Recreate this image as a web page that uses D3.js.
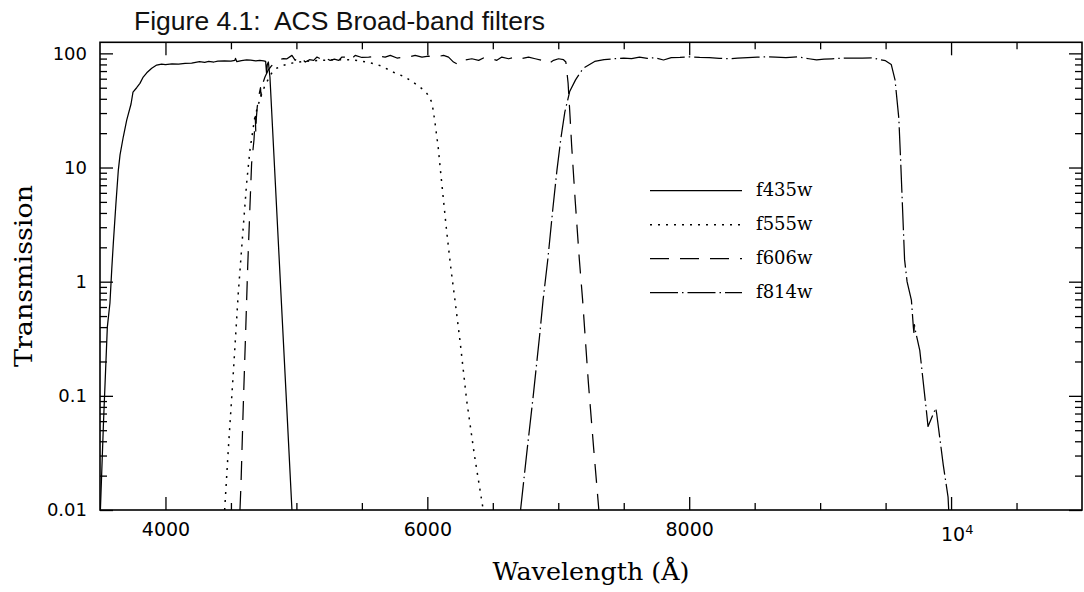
<!DOCTYPE html>
<html>
<head>
<meta charset="utf-8">
<script src="https://cdn.jsdelivr.net/npm/d3@7"></script>
<style>
  html, body { margin: 0; padding: 0; background: #fff; }
  svg { display: block; }
</style>
</head>
<body>
<svg id="chart" width="1084" height="592"></svg>
<script>
// ---------- data (wavelength in Å, transmission in %) ----------
const wl435 = [3503,3527,3556,3576,3590,3602,3622,3640,3653,3678,3704,3737,3752,3780,3805,3830,3857,3895,3933,3970,4000,4050,4100,4150,4200,4230,4260,4300,4330,4370,4400,4450,4500,4530,4535,4545,4580,4620,4650,4690,4720,4750,4765,4772,4778,4786,4798,4840,4880,4920,4966];
const tr435 = [0.01,0.06,0.4,0.65,1.3,2.2,4.9,9.5,12.9,18.6,26,36,45.7,50,54.6,62,67.6,74,79,80.5,79.5,81,80.5,81.7,82,83.5,84.5,83.5,85,84,85.6,86,85.5,87,90.4,84.5,86.5,87.5,87.4,86,87,86,85,67,80,84,61.7,7,0.87,0.11,0.01];

const wl555 = [4452,4480,4518,4556,4594,4620,4645,4683,4722,4760,4811,4849,4900,4951,5050,5205,5300,5400,5470,5530,5600,5653,5714,5767,5821,5870,5920,5969,6000,6032,6045,6060,6083,6100,6121,6147,6180,6211,6250,6300,6360,6427];
const tr555 = [0.01,0.034,0.158,0.79,3.0,7.3,14.2,27.9,40,52.5,67,74,78.5,81.7,85,87,88,88,86.5,84,81,77,71,66,63,58,53,48,44,37.7,31.8,24,15,9.5,5.5,2.8,1.3,0.69,0.3,0.092,0.03,0.01];

const wl606 = [4569,4577,4594,4612,4628,4645,4658,4676,4686,4690,4694,4701,4714,4726,4730,4734,4760,4785,4811,4840,4870,4900,4928,4966,4991,5017,5042,5068,5100,5132,5157,5182,5208,5233,5258,5290,5323,5348,5386,5411,5449,5500,5552,5615,5678,5717,5768,5810,5857,5907,5959,6010,6047,6085,6124,6162,6200,6238,6276,6340,6392,6442,6493,6531,6569,6621,6671,6709,6773,6824,6875,6925,6964,7002,7040,7058,7075,7090,7102,7130,7161,7186,7230,7270,7310];
const tr606 = [0.01,0.017,0.08,0.35,1.35,4.5,10.9,17.4,28,20,27,34,43,50,42,51,62,71.5,78,84,88,90,89.7,96,86.9,94.7,89.7,83.9,88,86.9,92.8,89.7,96,89.7,86.9,89,86.9,92.8,92.8,86.9,96,92,92.8,94.7,92.8,96,91,92,92.8,96,92.8,94.7,92.8,94,96,92.8,83.9,79.5,86.9,89.7,86.9,92.8,89.7,86.9,92.8,89.7,92.8,89.7,92.8,89.7,86.9,81.1,86.9,89.7,88,84,55,28,15.7,5,1.56,0.69,0.13,0.035,0.01];

const wl814 = [6712,6760,6808,6859,6884,6921,6959,6990,7020,7050,7088,7132,7190,7278,7350,7425,7500,7560,7620,7680,7740,7804,7863,7930,8003,8080,8155,8230,8301,8370,8447,8520,8593,8660,8739,8826,8914,8973,9030,9090,9160,9240,9323,9400,9440,9499,9543,9572,9601,9616,9645,9664,9697,9712,9716,9720,9730,9761,9811,9824,9883,9890,9940,9977,9982];
const tr814 = [0.01,0.032,0.098,0.35,0.69,1.6,4.4,9.5,18,30.6,46.6,58.6,74,85,88,89.7,91,90,92.5,90.5,91.5,87.5,91.7,92,93.2,92,91.7,90.5,89.7,91,91.7,92.5,93.2,92.5,91.7,93.2,89.7,87.5,89,89.7,90.5,91,91,91.5,89,86.3,80,58.6,27,10.7,1.56,1.0,0.69,0.40,0.36,0.42,0.36,0.25,0.075,0.054,0.078,0.07,0.025,0.013,0.01];

const seriesNames = ["f435w","f555w","f606w","f814w"];
const xMajorTicks = [4000,6000,8000,10000];
const xTickLabels = ["4000","6000","8000","10^4"];
const yMajorTicks = [0.01,0.1,1,10,100];
const yTickLabels = ["0.01","0.1","1","10","100"];

// ---------- layout ----------
const L = 100, R = 1082, T = 42.3, B = 510;
const svg = d3.select("#chart");
const x = d3.scaleLinear().domain([3500, 11000]).range([L, R]);
const y = d3.scaleLog().domain([0.01, 125]).range([B, T]);

const xMinor = d3.range(3500, 11001, 500).filter(v => !xMajorTicks.includes(v) && v > 3500 && v < 11000);
const yMinor = [];
[0.01,0.1,1,10,100].forEach(d => { for (let k = 2; k <= 9; k++) { const v = d*k; if (v < 125) yMinor.push(v); } });

const ink = "#000";
const tickFont = "'DejaVu Sans', sans-serif";
const serif = "'DejaVu Serif', serif";

function styleAxis(g) {
  g.select(".domain").remove();
  g.selectAll("line").attr("stroke", ink).attr("stroke-width", 1.3);
}
// bottom
svg.append("g").attr("transform", `translate(0,${B})`)
  .call(d3.axisBottom(x).tickValues(xMajorTicks).tickSize(-13).tickPadding(13)
    .tickFormat((d,i) => xTickLabels[i]))
  .call(styleAxis)
  .call(g => g.selectAll("text").attr("font-family", tickFont).attr("font-size", 19).attr("fill", ink))
  .call(g => g.selectAll("text").filter(d => d === 10000).each(function() {
      const t = d3.select(this); t.text(null).attr("dx", "0.3em").attr("y", 17.5);
      t.append("tspan").text("10");
      t.append("tspan").attr("dy", "-0.55em").attr("font-size", 13).text("4");
  }));
svg.append("g").attr("transform", `translate(0,${B})`)
  .call(d3.axisBottom(x).tickValues(xMinor).tickSize(-7).tickFormat(""))
  .call(styleAxis);
// top
svg.append("g").attr("transform", `translate(0,${T})`)
  .call(d3.axisTop(x).tickValues(xMajorTicks).tickSize(-13).tickFormat(""))
  .call(styleAxis);
svg.append("g").attr("transform", `translate(0,${T})`)
  .call(d3.axisTop(x).tickValues(xMinor).tickSize(-7).tickFormat(""))
  .call(styleAxis);
// left
svg.append("g").attr("transform", `translate(${L},0)`)
  .call(d3.axisLeft(y).tickValues(yMajorTicks).tickSize(-13).tickPadding(13)
    .tickFormat((d,i) => yTickLabels[i]))
  .call(styleAxis)
  .call(g => g.selectAll("text").attr("font-family", tickFont).attr("font-size", 18).attr("fill", ink));
svg.append("g").attr("transform", `translate(${L},0)`)
  .call(d3.axisLeft(y).tickValues(yMinor).tickSize(-7).tickFormat(""))
  .call(styleAxis);
// right
svg.append("g").attr("transform", `translate(${R},0)`)
  .call(d3.axisRight(y).tickValues(yMajorTicks).tickSize(-13).tickFormat(""))
  .call(styleAxis);
svg.append("g").attr("transform", `translate(${R},0)`)
  .call(d3.axisRight(y).tickValues(yMinor).tickSize(-7).tickFormat(""))
  .call(styleAxis);

// frame
svg.append("rect").attr("x", L).attr("y", T).attr("width", R - L).attr("height", B - T)
  .attr("fill", "none").attr("stroke", ink).attr("stroke-width", 1.6);

// clip
svg.append("clipPath").attr("id", "plotclip").append("rect")
  .attr("x", L).attr("y", T).attr("width", R - L).attr("height", B - T);

const dashes = { f435w: null, f555w: "2,6", f606w: "19,11", f814w: "28,4,1.5,4" };
const seriesData = {
  f435w: wl435.map((w,i) => [w, tr435[i]]),
  f555w: wl555.map((w,i) => [w, tr555[i]]),
  f606w: wl606.map((w,i) => [w, tr606[i]]),
  f814w: wl814.map((w,i) => [w, tr814[i]])
};
const line = d3.line().x(d => x(d[0])).y(d => y(d[1]));
const plot = svg.append("g").attr("clip-path", "url(#plotclip)");
seriesNames.forEach(n => {
  plot.append("path").datum(seriesData[n]).attr("d", line)
    .attr("fill", "none").attr("stroke", ink).attr("stroke-width", n === "f555w" ? 1.5 : 1.25)
    .attr("stroke-linejoin", "round")
    .attr("stroke-dasharray", dashes[n]);
});

// legend
const lg = svg.append("g");
seriesNames.forEach((n, i) => {
  const yy = 190.7 + i * 34;
  lg.append("line").attr("x1", 650).attr("x2", 742).attr("y1", yy).attr("y2", yy)
    .attr("stroke", ink).attr("stroke-width", n === "f555w" ? 1.5 : 1.25)
    .attr("stroke-dasharray", dashes[n]);
  lg.append("text").attr("x", 756).attr("y", yy + 5.5).attr("font-family", serif)
    .attr("font-size", 18).attr("fill", ink).text(n);
});

// titles
svg.append("text").attr("x", 134).attr("y", 30).attr("font-family", "'Liberation Sans', Arial, sans-serif")
  .attr("font-size", 26.5).attr("fill", "#111").text("Figure 4.1:  ACS Broad-band filters")
  .attr("xml:space", "preserve").style("white-space", "pre");
svg.append("text").attr("x", (L + R) / 2).attr("y", 580).attr("text-anchor", "middle")
  .attr("font-family", serif).attr("font-size", 25).attr("fill", ink)
  .attr("textLength", 197).attr("lengthAdjust", "spacingAndGlyphs")
  .text("Wavelength (Å)");
svg.append("text").attr("transform", "translate(31.5,276) rotate(-90)").attr("text-anchor", "middle")
  .attr("font-family", serif).attr("font-size", 25).attr("fill", ink)
  .attr("textLength", 182).attr("lengthAdjust", "spacingAndGlyphs")
  .text("Transmission");
</script>
</body>
</html>
